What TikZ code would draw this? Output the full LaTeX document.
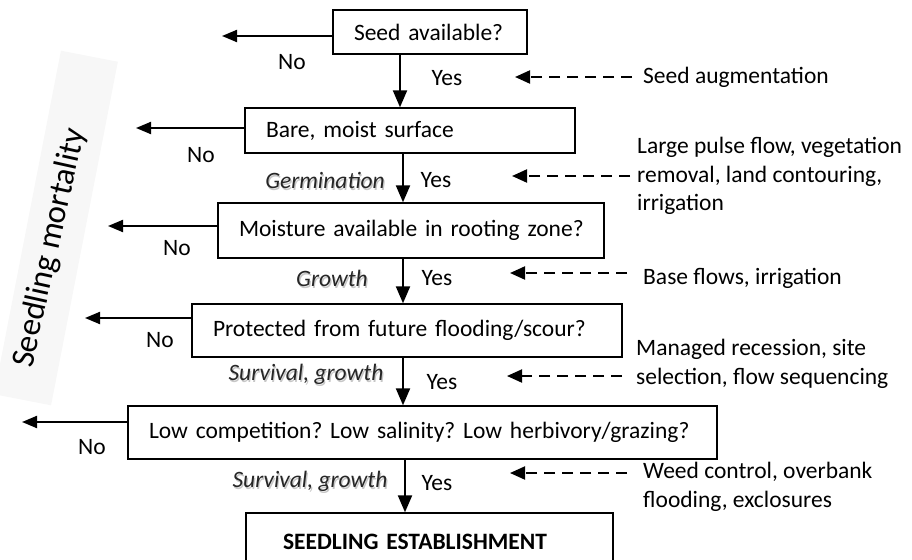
\documentclass[tikz,border=0pt]{standalone}
\usepackage{fontspec}
\setmainfont{Carlito}
\usetikzlibrary{arrows.meta,calc}
\newcommand{\shadowtext}[1]{\rlap{\hspace{1.2pt}\raisebox{-2pt}{\textcolor{black!22}{#1}}}\textcolor{black!85}{#1}}
\begin{document}
\begin{tikzpicture}[x=1pt,y=-1pt,
  font=\fontsize{23.5}{28.5}\selectfont\frenchspacing,
  box/.style={draw, line width=1.4pt, rectangle, inner xsep=21pt, inner ysep=0pt, align=left},
  flow/.style={line width=2.2pt, -{Triangle[length=17pt,width=14pt]}},
  noarr/.style={line width=2pt, -{Triangle[length=15pt,width=12pt]}},
  dasharr/.style={line width=2pt, dash pattern=on 11pt off 7pt, -{Triangle[length=15pt,width=13pt]}},
  lbl/.style={inner sep=0pt},
  rlbl/.style={inner sep=0pt, anchor=west, align=left},
  stage/.style={inner sep=0pt, font=\fontsize{23.5}{28.5}\selectfont\itshape},
]
\useasboundingbox (0,0) rectangle (912,559);
\clip (0,0) rectangle (912,559);

% side band and title
\node[fill=black!3, minimum width=350pt, minimum height=58pt, rotate=79] (band) at (56,228) {};
\node[inner sep=0pt, rotate=77.5, font=\fontsize{33}{40}\selectfont] (mort) at (50,248) {Seedling mortality};

% boxes
\node[box, text width=152pt, minimum height=44pt] (b1) at (430,32) {\mbox{Seed available?}};
\node[box, text width=288pt, minimum height=45pt] (b2) at (410,130.5) {\mbox{Bare, moist surface}};
\node[box, text width=344pt, minimum height=55pt] (b3) at (411,230.5) {\mbox{Moisture available in rooting zone?}};
\node[box, text width=388pt, minimum height=53pt] (b4) at (407,330.5) {\mbox{Protected from future flooding/scour?}};
\node[box, text width=547pt, minimum height=53pt] (b5) at (422.5,432.5) {\mbox{Low competition? Low salinity? Low herbivory/grazing?}};
\node[box, text width=325pt, minimum height=58pt] (b6) at (429.5,542) {\hspace*{16pt}\mbox{\textbf{SEEDLING ESTABLISHMENT}}};

% vertical flow arrows
\coordinate (v1) at (400,0);
\coordinate (v2) at (403,0);
\coordinate (v3) at (403,0);
\coordinate (v4) at (403,0);
\coordinate (v5) at (405,0);
\draw[flow] (b1.south -| v1) -- (b2.north -| v1);
\draw[flow] (b2.south -| v2) -- (b3.north -| v2);
\draw[flow] (b3.south -| v3) -- (b4.north -| v3);
\draw[flow] (b4.south -| v4) -- (b5.north -| v4);
\draw[flow] (b5.south -| v5) -- (b6.north -| v5);

% "No" arrows
\coordinate (n1) at (222,36);
\coordinate (n2) at (136,128);
\coordinate (n3) at (108,226);
\coordinate (n4) at (85,318);
\coordinate (n5) at (22,422);
\draw[noarr] (b1.west |- n1) -- (n1);
\draw[noarr] (b2.west |- n2) -- (n2);
\draw[noarr] (b3.west |- n3) -- (n3);
\draw[noarr] (b4.west |- n4) -- (n4);
\draw[noarr] (b5.west |- n5) -- (n5);

\node[lbl] (no1) at (292,62) {No};
\node[lbl] (no2) at (201,155) {No};
\node[lbl] (no3) at (177,248) {No};
\node[lbl] (no4) at (160,340) {No};
\node[lbl] (no5) at (92,447) {No};

% "Yes" labels
\node[lbl] (y1) at (447,78) {Yes};
\node[lbl] (y2) at (436,180) {Yes};
\node[lbl] (y3) at (437,278) {Yes};
\node[lbl] (y4) at (442,382) {Yes};
\node[lbl] (y5) at (437,483) {Yes};

% stage labels with soft shadow
\node[stage] (g1) at (325,181) {\shadowtext{Germination}};
\node[stage] (g2) at (332,279) {\shadowtext{Growth}};
\node[stage] (g3) at (306,375) {\shadowtext{Survival, growth}};
\node[stage] (g4) at (310,482) {\shadowtext{Survival, growth}};

% management actions
\node[rlbl] (t1) at (643,77) {Seed augmentation};
\node[rlbl] (t2) at (637,176) {Large pulse flow, vegetation\\removal, land contouring,\\irrigation};
\node[rlbl] (t3) at (643,278) {Base flows, irrigation};
\node[rlbl] (t4) at (636,364) {Managed recession, site\\selection, flow sequencing};
\node[rlbl] (t5) at (643,487) {Weed control, overbank\\flooding, exclosures};

\coordinate (e1) at (515,77);
\coordinate (e2) at (512,176);
\coordinate (e3) at (510,273);
\coordinate (e4) at (507,376);
\coordinate (e5) at (510,473);
\draw[dasharr] ([shift={(-11,0)}]t1.west) -- (e1);
\draw[dasharr] ([shift={(-7,0)}]t2.west) -- (e2);
\draw[dasharr] ([shift={(-16,-5)}]t3.west) -- (e3);
\draw[dasharr] ([shift={(-14,12)}]t4.west) -- (e4);
\draw[dasharr] ([shift={(-16,-14)}]t5.west) -- (e5);
\end{tikzpicture}
\end{document}
